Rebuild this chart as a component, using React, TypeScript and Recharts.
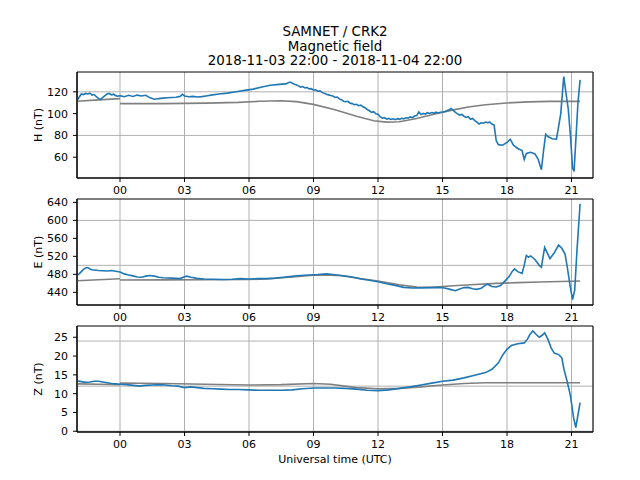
import React from "react";
import {
  CartesianGrid,
  LineChart,
  Line,
  ReferenceArea,
  XAxis,
  YAxis,
} from "recharts";

// hours relative to 2018-11-04 00:00 UTC
const hourTicks = [0, 3, 6, 9, 12, 15, 18, 21];

// H component (nT)
const hTimes = [
  -2.0, -1.9, -1.8, -1.7, -1.6, -1.5, -1.4, -1.3, -1.2, -1.1, -1.0, -0.9, -0.8, -0.7, -0.6, -0.5, -0.4, -0.3, -0.2, -0.1,
  0.0, 0.2, 0.4, 0.6, 0.8, 1.0, 1.2, 1.4, 1.6, 1.8, 2.0, 2.2, 2.4, 2.6, 2.8, 2.9, 3.0, 3.2, 3.4, 3.6, 3.8, 4.0, 4.3, 4.6,
  5.0, 5.4, 5.8, 6.2, 6.6, 7.0, 7.4, 7.7, 7.9,
  8.0, 8.1, 8.2, 8.3, 8.4, 8.5, 8.6, 8.7, 8.8, 8.9, 9.0, 9.1, 9.2, 9.3, 9.4, 9.5, 9.6, 9.7, 9.8, 9.9,
  10.0, 10.1, 10.2, 10.3, 10.4, 10.5, 10.6, 10.7, 10.8, 10.9, 11.0, 11.1, 11.2, 11.3, 11.4, 11.5, 11.6, 11.7, 11.8, 11.9,
  12.0, 12.1, 12.2, 12.3, 12.4, 12.5, 12.6, 12.7, 12.8, 12.9, 13.0, 13.1, 13.2, 13.3, 13.4, 13.5, 13.6, 13.7, 13.8, 13.9,
  14.0, 14.1, 14.2, 14.3, 14.4, 14.5, 14.6, 14.7, 14.8, 14.9, 15.0, 15.1, 15.2, 15.3, 15.4, 15.5, 15.6, 15.7, 15.8, 15.9,
  16.0, 16.1, 16.2, 16.3, 16.4, 16.5, 16.6, 16.7, 16.8, 16.9, 17.0, 17.1, 17.2, 17.3, 17.4,
  17.5, 17.6, 17.8, 18.0, 18.15, 18.3, 18.5, 18.7, 18.8, 18.9, 19.1, 19.3, 19.45, 19.6, 19.7,
  19.8, 19.9, 20.1, 20.3, 20.4, 20.5, 20.64, 20.75, 20.85, 20.95, 21.05, 21.12, 21.2, 21.3, 21.4,
];
const hValues = [
  112, 115, 118, 117.5, 118.5, 118, 118.8, 117, 117.5, 115.5, 114, 113, 115, 116.5, 118, 118.5, 117.2, 117.8, 116.5, 116,
  116.5, 115.5, 116.8, 115.8, 117, 116.2, 116.8, 114.5, 113.2, 113.8, 114.2, 114.6, 114.8, 115, 115.8, 117.8, 116.2,
  115.5, 115.8, 115.2, 115.6, 116.2, 117.2, 118, 118.8, 120, 121.3, 122.5, 124.5, 126, 126.8, 127.3, 129,
  128.2, 127, 126.4, 125.5, 124.3, 124.8, 123.6, 123.9, 122.7, 122.9, 121.6, 121.9, 120.6, 120.9, 119.5, 118.6, 117.8,
  117.2, 116.6, 116.1,
  114.8, 115.2, 113.5, 112.8, 111.4, 110.9, 111.3, 109.6, 109.2, 108.2, 108.6, 107.3, 107.8, 106.2, 105.4, 103.8, 102.6,
  101.2, 101.8, 99.8,
  99.4, 97.2, 95.8, 96.3, 94.9, 95.6, 94.6, 95.3, 94.5, 95.4, 94.8, 95.7, 95.2, 96.2, 95.9, 97, 96.4, 97.8, 98.2, 101.5,
  99.1, 100.2, 99.6, 100.8, 100.1, 101, 100.3, 101.3, 100.6, 101.2, 101.5, 102, 102.6, 103.5, 104.8, 103, 101.2, 99.8,
  98.7, 99.3,
  97.6, 96.5, 97.2, 94.8, 95.6, 93.6, 92.2, 90.5, 91.6, 91.2, 92.3, 91.7, 92.1, 90.4, 89.5,
  75, 71.5, 71, 73.5, 76.5, 71, 68, 66, 58, 63.5, 64.5, 63, 58, 48.5, 66,
  81, 79, 77, 76.5, 88, 100, 134, 118, 104, 80, 50, 47, 75, 110, 131,
];
const hQuietPrevTimes = [-2, -1, 0];
const hQuietPrev = [111.3, 112.6, 113.8];
const hQuietTimes = [0, 2, 4, 5.5, 6.5, 7.5, 8.2, 9, 10, 11, 11.8, 12.4, 13, 13.8, 14.6, 15.4, 16.2, 17, 18, 19, 20, 21.4];
const hQuiet = [109.2, 109.2, 109.6, 110.3, 111.3, 111.8, 111, 108.5, 103.5, 97.5, 93.5, 92.2, 92.6, 95.5, 99.5, 103, 106, 108.2, 109.8, 110.8, 111.2, 111.2];

// E component (nT)
const eTimes = [
  -2.0, -1.9, -1.8, -1.7, -1.6, -1.5, -1.4, -1.3, -1.2, -1.0, -0.8, -0.6, -0.4, -0.2, 0.0, 0.2, 0.4, 0.6, 0.8, 1.0, 1.2,
  1.4, 1.6, 1.8, 2.0, 2.4, 2.8, 3.0, 3.1, 3.3, 3.6, 3.9, 4.3, 4.8, 5.2, 5.6, 6.0, 6.4, 6.8, 7.2, 7.6, 8.0, 8.4, 8.8,
  9.2, 9.6, 10.0, 10.4, 10.8, 11.2, 11.6, 12.0, 12.4, 12.8, 13.2, 13.6, 14.0, 14.4, 14.8, 15.1, 15.4, 15.6, 15.8, 16.0,
  16.2, 16.4, 16.6, 16.8, 17.0, 17.1, 17.3, 17.5, 17.7, 17.9, 18.1, 18.25, 18.35, 18.5, 18.7, 18.8, 18.9, 19.0, 19.1,
  19.3, 19.5, 19.6, 19.75, 19.9, 20.0, 20.2, 20.4, 20.55, 20.7, 20.8, 20.95, 21.05, 21.15, 21.25, 21.4,
];
const eValues = [
  478, 481, 486, 491, 494, 495, 492, 490, 489.5, 488.5, 488, 487.5, 488.5, 487, 485, 481, 478.5, 476.5, 474, 473.5, 476,
  477.5, 476, 473.5, 472.5, 471.5, 470.5, 474.5, 476, 473.5, 471, 469.5, 469, 468.5, 469, 470.5, 469.5, 470.5, 470.5,
  471.5, 473.5, 475.5, 477.5, 478.5, 479.5, 481, 479, 477, 474, 469.5, 467, 463.5, 459, 455.5, 451, 449.5, 449.8, 450.5,
  451, 449.5, 446, 443.5, 447.5, 450.5, 451, 448, 446.5, 449, 456, 458, 453, 452, 455, 465, 475, 487, 492, 486, 482,
  500, 522, 518, 521, 513, 500, 496, 540, 525, 515, 528, 545, 538, 525, 497, 450, 424, 445, 530, 637,
];
const eQuietPrevTimes = [-2, -1, 0];
const eQuietPrev = [465.8, 468, 470.3];
const eQuietTimes = [0, 2, 4, 6, 7, 8, 9, 9.6, 10.3, 11, 12, 13, 13.8, 14.5, 15.5, 16.5, 17.5, 18.5, 19.5, 20.5, 21.4];
const eQuiet = [467.5, 467.6, 468, 468.5, 470, 474, 478, 478.8, 477, 472, 465, 457, 451.5, 451, 454.5, 457.5, 459.8, 461.5, 463, 464, 465];

// Z component (nT)
const zTimes = [
  -2.0, -1.8, -1.6, -1.4, -1.2, -1.0, -0.8, -0.6, -0.4, -0.2, 0.0, 0.3, 0.6, 0.9, 1.2, 1.5, 1.8, 2.1, 2.4, 2.7, 3.0, 3.3,
  3.6, 3.9, 4.3, 4.7, 5.1, 5.5, 6.0, 6.5, 7.0, 7.5, 8.0, 8.5, 9.0, 9.5, 10.0, 10.5, 11.0, 11.5, 12.0, 12.5, 13.0, 13.5,
  14.0, 14.5, 15.0, 15.5, 16.0, 16.5, 17.0, 17.3, 17.6, 17.8, 18.0, 18.2, 18.5, 18.8, 18.95, 19.05, 19.2, 19.35, 19.5,
  19.65, 19.75, 19.9, 20.05, 20.2, 20.4, 20.55, 20.65, 20.8, 20.95, 21.1, 21.2, 21.4,
];
const zValues = [
  13.4, 13.2, 13.0, 13.1, 13.3, 13.3, 13.1, 12.9, 12.7, 12.6, 12.5, 12.4, 12.2, 12.0, 12.2, 12.3, 12.4, 12.3, 12.1, 12.0,
  11.6, 11.8, 11.6, 11.4, 11.3, 11.2, 11.1, 11.1, 11.0, 10.9, 10.9, 10.9, 11.0, 11.3, 11.5, 11.5, 11.5, 11.4, 11.2, 10.9,
  10.8, 11.0, 11.4, 11.8, 12.3, 12.8, 13.3, 13.6, 14.2, 14.9, 15.6, 16.5, 18.2, 20.3, 21.8, 22.8, 23.3, 23.5, 24.5, 25.6,
  26.7, 25.8, 25.0, 25.6, 26.2, 24.5, 22.2, 20.8, 20.4, 19.5, 16.5, 13.2, 9.5, 3.5, 1.0, 7.6,
];
const zQuietPrevTimes = [-2, -1, 0];
const zQuietPrev = [12.6, 12.5, 12.4];
const zQuietTimes = [0, 2, 4, 6, 7.5, 9, 9.8, 11, 12, 13, 14, 15, 16, 17, 18, 21.4];
const zQuiet = [12.8, 12.7, 12.5, 12.3, 12.4, 12.7, 12.5, 11.6, 11.3, 11.4, 11.8, 12.3, 12.7, 12.9, 12.9, 12.9];

const toPoints = (times: number[], values: number[]) =>
  times.map((t, i) => ({ t, v: values[i] }));

const BLUE = "#1f77b4";
const GRAY = "#808080";
const FONT = "DejaVu Sans";
const tickStyle = { fontSize: 11, fill: "#000", fontFamily: FONT };

type PanelProps = {
  top: number;
  label: string;
  domain: [number, number];
  yTicks: number[];
  gridValues: number[];
  blue: { t: number; v: number }[];
  quietPrev: { t: number; v: number }[];
  quiet: { t: number; v: number }[];
  bottom?: boolean;
};

function Panel({ top, label, domain, yTicks, gridValues, blue, quietPrev, quiet, bottom }: PanelProps) {
  const xHeight = bottom ? 36 : 25;
  return (
    <div style={{ position: "absolute", left: 0, top: top - 5 }}>
      <LineChart
        width={640}
        height={5 + 106 + xHeight}
        margin={{ top: 5, right: 47, bottom: 0, left: 0 }}
        style={{ fontFamily: FONT }}
      >
        <CartesianGrid stroke="#b0b0b0" horizontalValues={gridValues} />
        <XAxis
          type="number"
          dataKey="t"
          domain={[-2, 22]}
          ticks={hourTicks}
          allowDataOverflow
          height={xHeight}
          tickFormatter={(v: number) => String(v).padStart(2, "0")}
          tick={tickStyle}
          tickSize={4}
          tickMargin={4}
          stroke="#000"
          label={
            bottom
              ? { value: "Universal time (UTC)", position: "insideBottom", offset: 5, style: tickStyle }
              : undefined
          }
        />
        <YAxis
          type="number"
          dataKey="v"
          domain={domain}
          ticks={yTicks}
          allowDataOverflow
          width={77}
          tick={tickStyle}
          tickSize={4}
          tickMargin={5}
          stroke="#000"
          label={{ value: label, angle: -90, position: "center", style: tickStyle }}
        />
        <Line data={quietPrev} dataKey="v" stroke={GRAY} strokeWidth={1.6} dot={false} isAnimationActive={false} />
        <Line data={quiet} dataKey="v" stroke={GRAY} strokeWidth={1.6} dot={false} isAnimationActive={false} />
        <Line data={blue} dataKey="v" stroke={BLUE} strokeWidth={1.6} dot={false} isAnimationActive={false} />
        <ReferenceArea x1={-2} x2={22} y1={domain[0]} y2={domain[1]} fill="none" stroke="#000" strokeWidth={1} />
      </LineChart>
    </div>
  );
}

export default function App() {
  return (
    <div
      style={{
        position: "absolute",
        left: 0,
        top: 0,
        width: 640,
        height: 480,
        background: "#fff",
        fontFamily: FONT,
      }}
    >
      <div
        style={{
          position: "absolute",
          left: 77,
          width: 516,
          top: 25,
          textAlign: "center",
          fontSize: 13.4,
          lineHeight: "14.6px",
          color: "#000",
        }}
      >
        <div>SAMNET / CRK2</div>
        <div>Magnetic field</div>
        <div>2018-11-03 22:00 - 2018-11-04 22:00</div>
      </div>
      <Panel
        top={72}
        label="H (nT)"
        domain={[40.9, 138.2]}
        yTicks={[60, 80, 100, 120]}
        gridValues={[60, 80, 100, 120]}
        blue={toPoints(hTimes, hValues)}
        quietPrev={toPoints(hQuietPrevTimes, hQuietPrev)}
        quiet={toPoints(hQuietTimes, hQuiet)}
      />
      <Panel
        top={199}
        label="E (nT)"
        domain={[411.8, 647.5]}
        yTicks={[440, 480, 520, 560, 600, 640]}
        gridValues={[450, 500, 550, 600]}
        blue={toPoints(eTimes, eValues)}
        quietPrev={toPoints(eQuietPrevTimes, eQuietPrev)}
        quiet={toPoints(eQuietTimes, eQuiet)}
      />
      <Panel
        top={326}
        label="Z (nT)"
        domain={[-0.2, 28]}
        yTicks={[0, 5, 10, 15, 20, 25]}
        gridValues={[0, 6, 12, 18, 24]}
        blue={toPoints(zTimes, zValues)}
        quietPrev={toPoints(zQuietPrevTimes, zQuietPrev)}
        quiet={toPoints(zQuietTimes, zQuiet)}
        bottom
      />
    </div>
  );
}
